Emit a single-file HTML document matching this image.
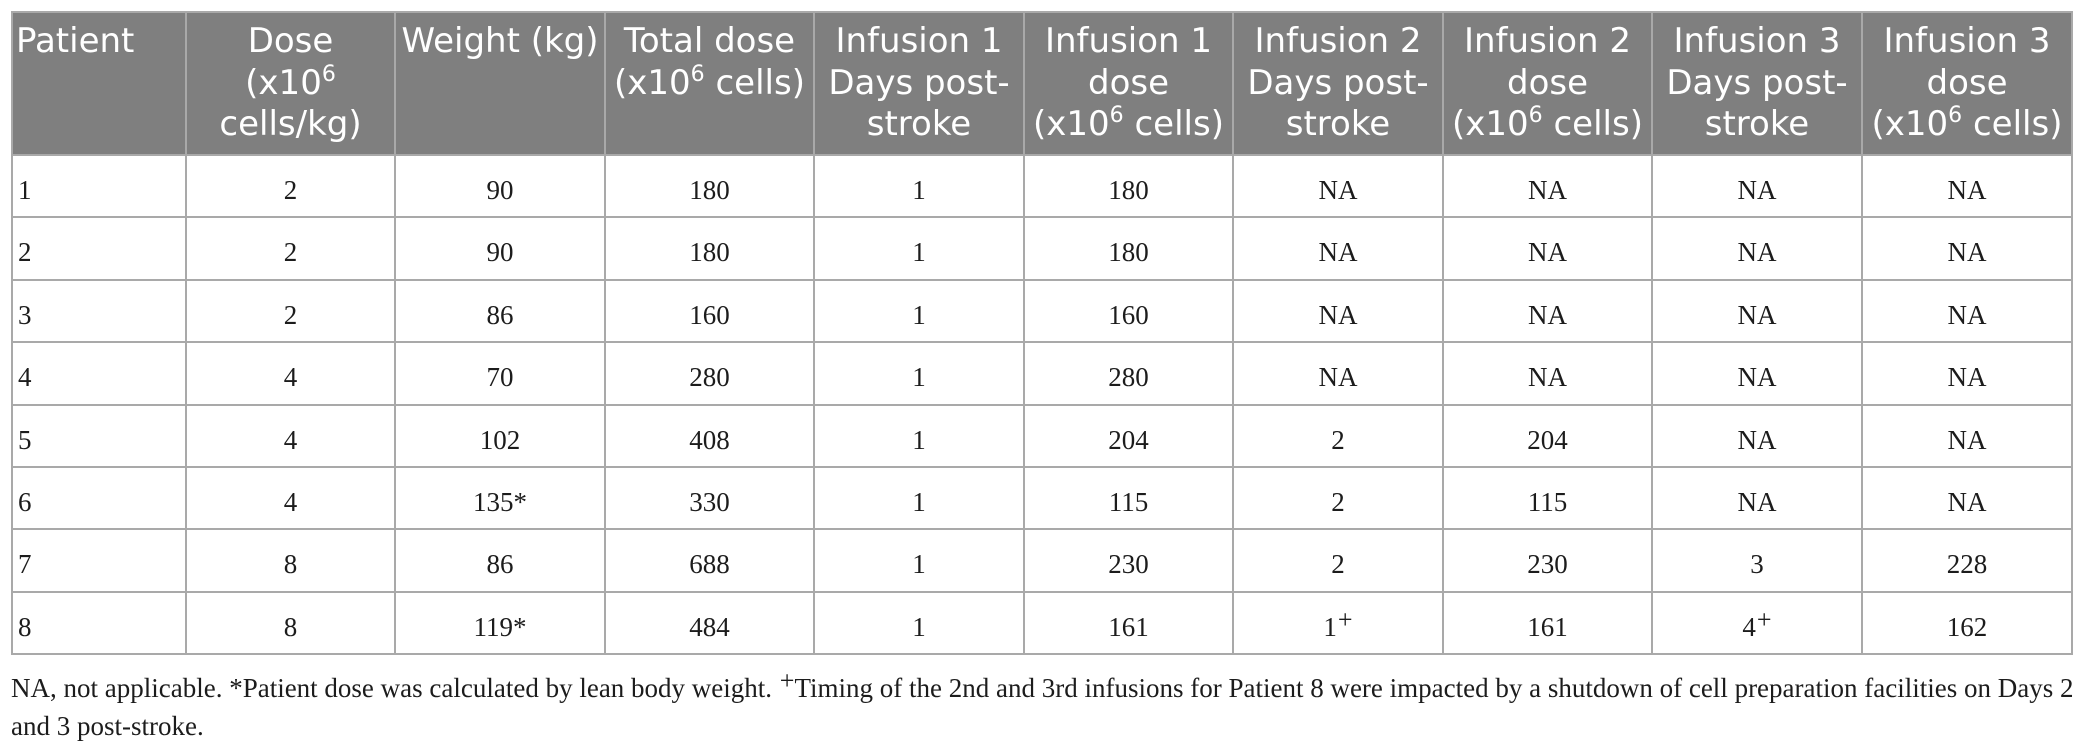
<!DOCTYPE html>
<html>
<head>
<meta charset="utf-8">
<style>
html,body{margin:0;padding:0;background:#fff;}
body{width:2086px;height:753px;position:relative;overflow:hidden;}
.hbg{position:absolute;left:11px;top:11px;width:2062px;height:145px;background:#7f7f7f;}
.v{position:absolute;top:11px;width:2px;height:644px;background:#a9a9a9;}
.h{position:absolute;left:11px;width:2062px;height:2px;background:#a9a9a9;}
.row{position:absolute;left:13px;display:flex;}
.row > div{box-sizing:border-box;padding-right:2px;text-align:center;white-space:nowrap;}
.row > div:nth-child(1){width:174px;text-align:left;}
.row > div:nth-child(2){width:209px;}
.row > div:nth-child(3){width:210px;}
.row > div:nth-child(4){width:209px;}
.row > div:nth-child(5){width:210px;}
.row > div:nth-child(6){width:209px;}
.row > div:nth-child(7){width:210px;}
.row > div:nth-child(8){width:209px;}
.row > div:nth-child(9){width:210px;}
.row > div:nth-child(10){width:210px;}
.hd{top:21px;font-family:"DejaVu Sans","Liberation Sans",sans-serif;font-size:34px;line-height:41.7px;color:#fff;}
.hd > div:nth-child(1){padding-left:3px;}
.hd sup{font-size:22px;vertical-align:13px;line-height:0;}
.bd{font-family:"Liberation Serif",serif;font-size:27px;line-height:30px;color:#1c1c1c;}
.bd > div:nth-child(1){padding-left:5px;}
sup.p{font-size:26px;vertical-align:8px;line-height:0;margin-left:1px;}
.fn{position:absolute;left:11px;top:669px;width:2062px;font-family:"Liberation Serif",serif;font-size:27px;line-height:38px;color:#1c1c1c;}
.fn .l1{white-space:nowrap;text-align:justify;text-align-last:justify;}
</style>
</head>
<body>
<div class="hbg"></div>

<div class="row hd">
<div>Patient</div>
<div>Dose<br>(x10<sup>6</sup><br>cells/kg)</div>
<div>Weight (kg)</div>
<div>Total dose<br>(x10<sup>6</sup> cells)</div>
<div>Infusion 1<br>Days post-<br>stroke</div>
<div>Infusion 1<br>dose<br>(x10<sup>6</sup> cells)</div>
<div>Infusion 2<br>Days post-<br>stroke</div>
<div>Infusion 2<br>dose<br>(x10<sup>6</sup> cells)</div>
<div>Infusion 3<br>Days post-<br>stroke</div>
<div>Infusion 3<br>dose<br>(x10<sup>6</sup> cells)</div>
</div>

<div class="row bd" style="top:175px"><div>1</div><div>2</div><div>90</div><div>180</div><div>1</div><div>180</div><div>NA</div><div>NA</div><div>NA</div><div>NA</div></div>
<div class="row bd" style="top:237px"><div>2</div><div>2</div><div>90</div><div>180</div><div>1</div><div>180</div><div>NA</div><div>NA</div><div>NA</div><div>NA</div></div>
<div class="row bd" style="top:300px"><div>3</div><div>2</div><div>86</div><div>160</div><div>1</div><div>160</div><div>NA</div><div>NA</div><div>NA</div><div>NA</div></div>
<div class="row bd" style="top:362px"><div>4</div><div>4</div><div>70</div><div>280</div><div>1</div><div>280</div><div>NA</div><div>NA</div><div>NA</div><div>NA</div></div>
<div class="row bd" style="top:425px"><div>5</div><div>4</div><div>102</div><div>408</div><div>1</div><div>204</div><div>2</div><div>204</div><div>NA</div><div>NA</div></div>
<div class="row bd" style="top:487px"><div>6</div><div>4</div><div>135*</div><div>330</div><div>1</div><div>115</div><div>2</div><div>115</div><div>NA</div><div>NA</div></div>
<div class="row bd" style="top:549px"><div>7</div><div>8</div><div>86</div><div>688</div><div>1</div><div>230</div><div>2</div><div>230</div><div>3</div><div>228</div></div>
<div class="row bd" style="top:612px"><div>8</div><div>8</div><div>119*</div><div>484</div><div>1</div><div>161</div><div>1<sup class="p">+</sup></div><div>161</div><div>4<sup class="p">+</sup></div><div>162</div></div>

<div class="v" style="left:11px"></div>
<div class="v" style="left:185px"></div>
<div class="v" style="left:394px"></div>
<div class="v" style="left:604px"></div>
<div class="v" style="left:813px"></div>
<div class="v" style="left:1023px"></div>
<div class="v" style="left:1232px"></div>
<div class="v" style="left:1442px"></div>
<div class="v" style="left:1651px"></div>
<div class="v" style="left:1861px"></div>
<div class="v" style="left:2071px"></div>

<div class="h" style="top:11px"></div>
<div class="h" style="top:154px"></div>
<div class="h" style="top:216px"></div>
<div class="h" style="top:279px"></div>
<div class="h" style="top:341px"></div>
<div class="h" style="top:404px"></div>
<div class="h" style="top:466px"></div>
<div class="h" style="top:528px"></div>
<div class="h" style="top:591px"></div>
<div class="h" style="top:653px"></div>

<div class="fn">
<div class="l1">NA, not applicable. *Patient dose was calculated by lean body weight. <sup class="p">+</sup>Timing of the 2nd and 3rd infusions for Patient 8 were impacted by a shutdown of cell preparation facilities on Days 2</div>
<div>and 3 post-stroke.</div>
</div>
</body>
</html>
